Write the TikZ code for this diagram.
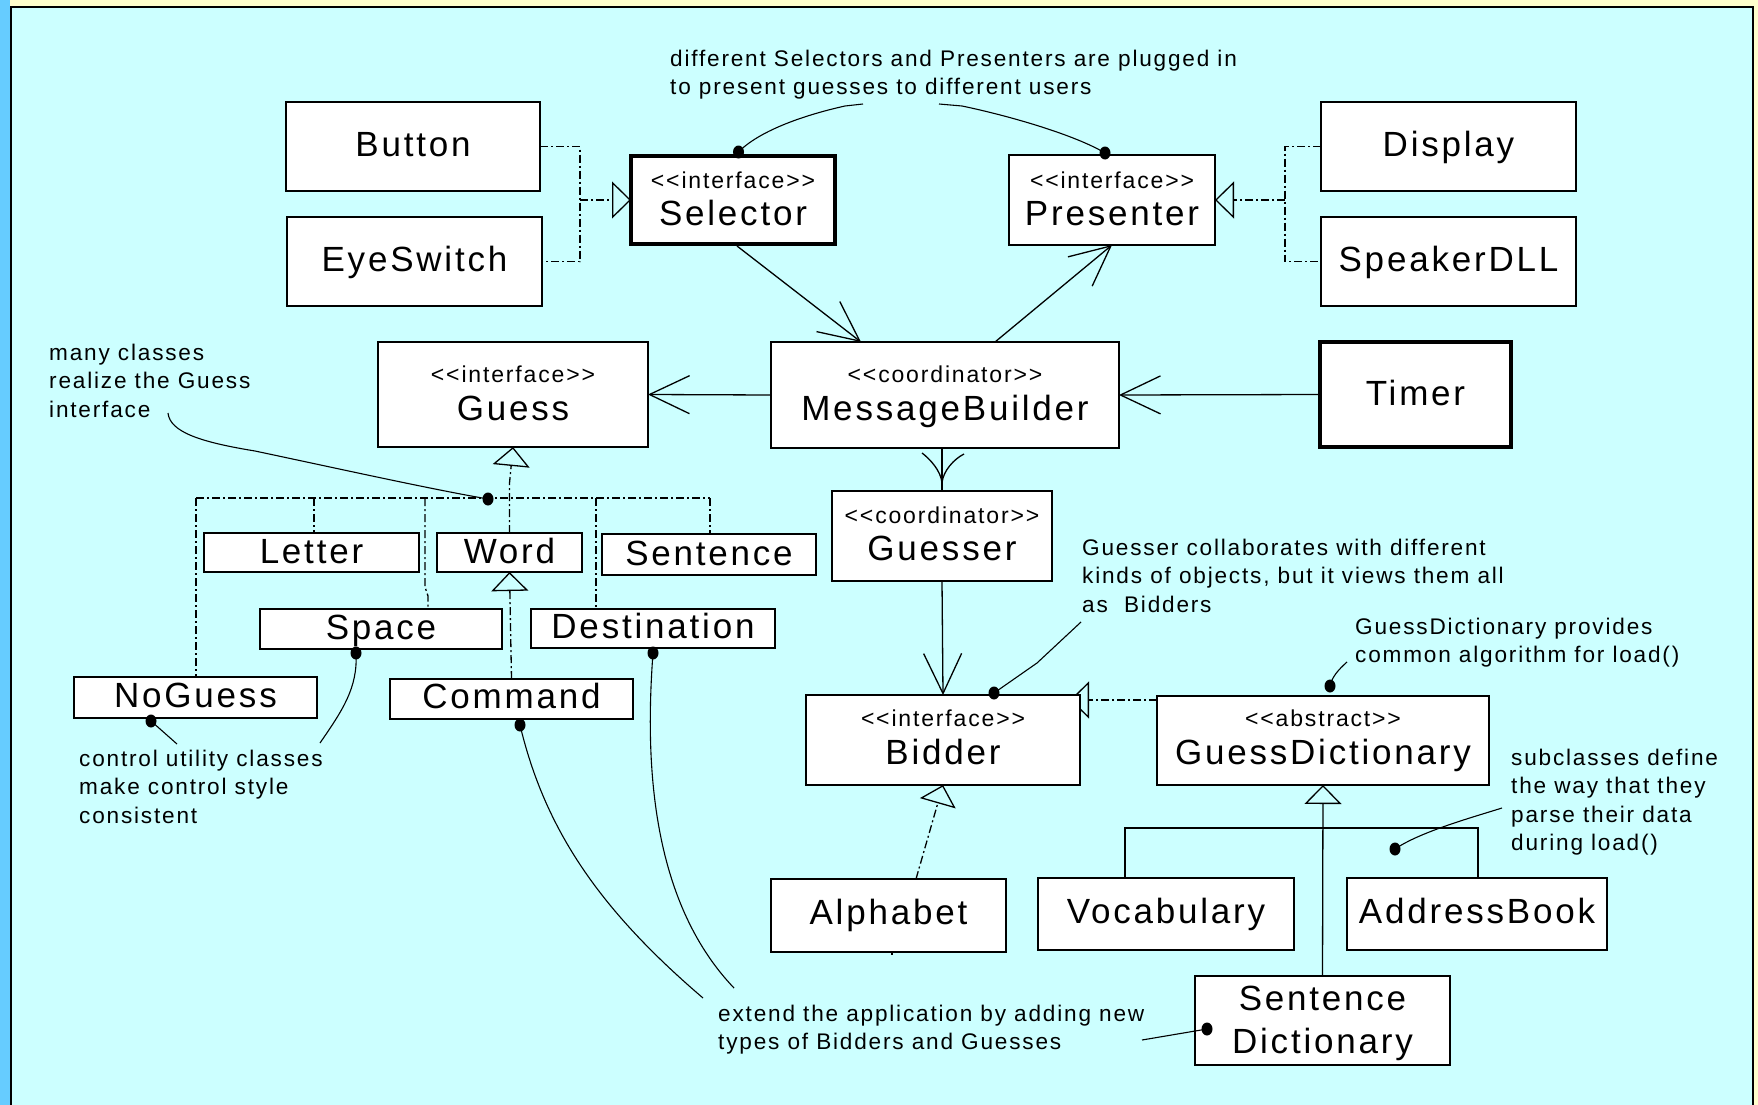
\documentclass[tikz,border=0pt]{standalone}
\usepackage{fontspec}
\newfontfamily\umlfam{Liberation Sans}[LetterSpace=8]
\usetikzlibrary{arrows.meta,fit,calc}
\pgfdeclarelayer{back}
\pgfdeclarelayer{wires}
\pgfsetlayers{back,wires,main}
\definecolor{panel}{RGB}{204,255,255}
\definecolor{stripe}{RGB}{102,204,255}
\definecolor{paper}{RGB}{255,255,204}
\definecolor{ink}{RGB}{0,0,0}
\newcommand\nmfont{\fontsize{35}{42}\umlfam}
\newcommand\stfont{\fontsize{23}{28}\umlfam}
\newcommand\notefont{\fontsize{22.6}{28.5}\umlfam}
\begin{document}
\begin{tikzpicture}[x=1pt,y=-1pt,
  cls/.style={draw=ink, fill=white, line width=1.5pt, inner sep=0pt, outer sep=0pt},
  heavy/.style={line width=4pt},
  nm/.style={font=\nmfont, inner sep=0pt, text height=24pt, text depth=0pt},
  st/.style={font=\stfont, inner sep=0pt, text height=16pt, text depth=0pt},
  note/.style={font=\notefont, inner sep=0pt, align=left, anchor=north west},
  wire/.style={draw=ink, line width=1.3pt},
  real/.style={wire, dash pattern=on 8pt off 3pt on 2pt off 3pt},
  nav/.style={wire, -{Straight Barb[length=40pt,width=38pt]}},
  gen/.style={-{Triangle[open,length=19pt,width=37pt]}},
  anno/.style={draw=ink, line width=1.1pt},
  dot/.style={fill=ink}
]
\useasboundingbox (0,0) rectangle (1758,1105);

% ---------- slide frame ----------
\begin{pgfonlayer}{back}
  \fill[paper] (0,0) rectangle (1758,1105);
  \fill[stripe] (0,0) rectangle (10,1105);
  \fill[panel] (11,7) rectangle (1753,1105);
  \draw[ink, line width=2pt] (11,1105) -- (11,7) -- (1753,7) -- (1753,1105);
\end{pgfonlayer}

% ---------- input devices and output devices ----------
\node[cls, fit={(286,102) (540,191)}] (button) {};
\node[nm] (button-t) at ($(button.center)+(0,-2)$) {Button};
\node[cls, fit={(287,217) (542,306)}] (eye) {};
\node[nm] (eye-t) at ($(eye.center)+(0,-2)$) {EyeSwitch};
\node[cls, heavy, fit={(631,156) (835,244)}] (sel) {};
\node[st] (sel-st) at ($(sel.center)+(0,-20)$) {<{}<interface>{}>};
\node[nm] (sel-nm) at ($(sel.center)+(0,13)$) {Selector};
\node[cls, fit={(1009,155) (1215,245)}] (pres) {};
\node[st] (pres-st) at ($(pres.center)+(0,-20)$) {<{}<interface>{}>};
\node[nm] (pres-nm) at ($(pres.center)+(0,13)$) {Presenter};
\node[cls, fit={(1321,102) (1576,191)}] (display) {};
\node[nm] (display-t) at ($(display.center)+(0,-2)$) {Display};
\node[cls, fit={(1321,217) (1576,306)}] (speaker) {};
\node[nm] (speaker-t) at ($(speaker.center)+(0,-2)$) {SpeakerDLL};

% ---------- coordinators ----------
\node[cls, fit={(378,342) (648,447)}] (guess) {};
\node[st] (guess-st) at ($(guess.center)+(0,-20)$) {<{}<interface>{}>};
\node[nm] (guess-nm) at ($(guess.center)+(0,13.5)$) {Guess};
\node[cls, fit={(771,342) (1119,448)}] (mb) {};
\node[st] (mb-st) at ($(mb.center)+(0,-21)$) {<{}<coordinator>{}>};
\node[nm] (mb-nm) at ($(mb.center)+(0,13)$) {MessageBuilder};
\node[cls, heavy, fit={(1320,342) (1511,447)}] (timer) {};
\node[nm] (timer-t) at ($(timer.center)+(0,-1)$) {Timer};
\node[cls, fit={(832,491) (1052,581)}] (guesser) {};
\node[st] (guesser-st) at ($(guesser.center)+(0,-21)$) {<{}<coordinator>{}>};
\node[nm] (guesser-nm) at ($(guesser.center)+(0,12)$) {Guesser};

% ---------- guesses ----------
\node[cls, fit={(204,533) (419,572)}] (letter) {};
\node[nm] (letter-t) at ($(letter.center)+(0,-1.5)$) {Letter};
\node[cls, fit={(437,533) (582,572)}] (word) {};
\node[nm] (word-t) at ($(word.center)+(0,-1.5)$) {Word};
\node[cls, fit={(602,534) (816,575)}] (sentence) {};
\node[nm] (sentence-t) at ($(sentence.center)+(0,-1.5)$) {Sentence};
\node[cls, fit={(260,609) (502,649)}] (space) {};
\node[nm] (space-t) at ($(space.center)+(0,-2)$) {Space};
\node[cls, fit={(531,609) (775,648)}] (dest) {};
\node[nm] (dest-t) at ($(dest.center)+(0,-2)$) {Destination};
\node[cls, fit={(74,677) (317,718)}] (noguess) {};
\node[nm] (noguess-t) at ($(noguess.center)+(0,-2)$) {NoGuess};
\node[cls, fit={(390,679) (633,719)}] (command) {};
\node[nm] (command-t) at ($(command.center)+(0,-2.5)$) {Command};

% ---------- bidders ----------
\node[cls, fit={(806,695) (1080,785)}] (bidder) {};
\node[st] (bidder-st) at ($(bidder.center)+(0,-22)$) {<{}<interface>{}>};
\node[nm] (bidder-nm) at ($(bidder.center)+(0,12.5)$) {Bidder};
\node[cls, fit={(1157,696) (1489,785)}] (gdict) {};
\node[st] (gdict-st) at ($(gdict.center)+(0,-22)$) {<{}<abstract>{}>};
\node[nm] (gdict-nm) at ($(gdict.center)+(0,12)$) {GuessDictionary};
\node[cls, fit={(771,879) (1006,952)}] (alphabet) {};
\node[nm] (alphabet-t) at ($(alphabet.center)+(0,-3)$) {Alphabet};
\node[cls, fit={(1038,878) (1294,950)}] (vocab) {};
\node[nm] (vocab-t) at ($(vocab.center)+(0,-3)$) {Vocabulary};
\node[cls, fit={(1347,878) (1607,950)}] (addr) {};
\node[nm] (addr-t) at ($(addr.center)+(0,-3)$) {AddressBook};
\node[cls, fit={(1195,976) (1450,1065)}] (sdict) {};
\node[nm] (sdict-a) at ($(sdict.center)+(0,-22)$) {Sentence};
\node[nm] (sdict-b) at ($(sdict.center)+(0,21)$) {Dictionary};

% ---------- notes ----------
\node[note] (n-plug) at (670,46) {\strut different Selectors and Presenters are plugged in\\to present guesses to different users};
\node[note] (n-many) at (49,340) {\strut many classes\\realize the Guess\\interface};
\node[note] (n-ctrl) at (79,746) {\strut control utility classes\\make control style\\consistent};
\node[note] (n-coll) at (1082,535) {\strut Guesser collaborates with different\\kinds of objects, but it views them all\\as\ \ Bidders};
\node[note] (n-load) at (1355,614) {\strut GuessDictionary\ provides\\common algorithm for load()};
\node[note] (n-sub) at (1511,745) {\strut subclasses define\\the way that they\\parse their data\\during load()};
\node[note] (n-ext) at (718,1001) {\strut extend the application by adding new\\types of Bidders and Guesses};

% ---------- junction points ----------
\coordinate (selJ) at (580,200);
\coordinate (presJ) at (1285,200);
\coordinate (gbusL) at (196,498);
\coordinate (gbusR) at (710,498);
\coordinate (gLet) at (314,498);
\coordinate (gSpc) at (425,498);
\coordinate (gDst) at (596,498);
\coordinate (gStem) at (509.5,483);
\coordinate (gtip) at (942,483);
\coordinate (gdbusL) at (1125,828);
\coordinate (gdbusR) at (1478,828);

% ---------- connectors ----------
\begin{pgfonlayer}{wires}
  % realizations of Selector and Presenter
  \draw[real] (button.east) -| (selJ |- eye.east) -- (eye.east);
  \draw[real, gen] (selJ) -- (sel.west);
  \draw[real] (display.west) -| (presJ |- speaker.west) -- (speaker.west);
  \draw[real, gen] (presJ) -- (pres.east);
  % navigations around the coordinators
  \draw[nav] ($(sel.south)+(4,2)$) -- ($(mb.north)+(-84,0)$);
  \draw[nav] ($(mb.north)+(50,0)$) -- (pres.south);
  \draw[nav] (mb.west) -- (guess.east);
  \draw[nav] (timer.west) -- (mb.east);
  \draw[wire] (mb.south -| gtip) -- (guesser.north -| gtip);
  \draw[wire] ($(gtip)+(-20,-30)$) .. controls ($(gtip)+(-12,-24)$) and ($(gtip)+(-1,-12)$) .. (gtip)
              .. controls ($(gtip)+(1,-12)$) and ($(gtip)+(12,-24)$) .. ($(gtip)+(22,-29)$);
  \draw[nav] (guesser.south) -- (bidder.north);
  % Guess hierarchy
  \draw[real] (gbusL) -- (gbusR);
  \draw[real, gen] (word.north) -- (gStem) -- (guess.south);
  \draw[real] (gbusL) -- (gbusL |- noguess.north);
  \draw[real] (gLet) -- (gLet |- letter.north);
  \draw[real] (gSpc) -- ++(0,89) -- ++(3,9) -- ($(gSpc |- space.north)+(3,0)$);
  \draw[real] (gDst) -- (gDst |- dest.north);
  \draw[real] (gbusR) -- (gbusR |- sentence.north);
  \draw[real, gen] (command.north) -- (word.south);
  % Bidder hierarchy
  \draw[real, gen] ($(alphabet.north)+(27.5,0)$) -- (bidder.south);
  \draw[wire] ($(alphabet.south)+(3.5,0)$) -- ++(0,3);
  \draw[real, gen] ($(gdict.west)+(0,-40.5)$) -- ($(bidder.north east)+(-10,5)$);
  \draw[wire, gen] (sdict.north) -- (gdict.south);
  \draw[wire] (gdbusL |- vocab.north) -- (gdbusL) -- (gdbusR) -- (gdbusR |- addr.north);
\end{pgfonlayer}

% ---------- note attachments ----------
\coordinate (a-plugL) at (863,104);
\coordinate (a-plugR) at (939,104);
\coordinate (a-many) at (168,413);
\coordinate (a-ctrl) at (320,743);
\coordinate (a-ctrl2) at (177,744);
\coordinate (a-ext1) at (703,998);
\coordinate (a-ext2) at (734,988);
\coordinate (a-ext3) at (1142,1040);
\coordinate (a-coll) at (1081,622);
\coordinate (a-load) at (1347,662);
\coordinate (a-sub) at (1502,808);

\coordinate (d-sel) at ($(sel.north)+(5.5,-4)$);
\coordinate (d-pres) at ($(pres.north)+(-7,-2)$);
\coordinate (d-bus) at (488,499);
\coordinate (d-space) at ($(space.south)+(-25,4)$);
\coordinate (d-dest) at ($(dest.south)+(0,5)$);
\coordinate (d-noguess) at ($(noguess.south)+(-44.5,3)$);
\coordinate (d-command) at ($(command.south)+(8.5,6)$);
\coordinate (d-bidder) at ($(bidder.north)+(51,-2)$);
\coordinate (d-gdict) at ($(gdict.north)+(7,-10)$);
\coordinate (d-sub) at ($(gdbusL)+(270,21)$);
\coordinate (d-sdict) at ($(sdict.west)+(12,8.5)$);

\draw[anno] (a-plugL) -- (845,106) .. controls (800,116) and (758,132) .. (d-sel);
\draw[anno] (a-plugR) -- (962,106) .. controls (1010,116) and (1075,135) .. (d-pres);
\draw[anno] (a-many) .. controls (170,432) and (200,442) .. (255,451)
            .. controls (340,469) and (430,489) .. (d-bus);
\draw[anno] (d-space) .. controls ($(d-space)+(2,35)$) and ($(a-ctrl)+(22,-32)$) .. (a-ctrl);
\draw[anno] (d-noguess) -- (a-ctrl2);
\draw[anno] (d-command) .. controls ($(d-command)+(25,105)$) and ($(a-ext1)+(-103,-88)$) .. (a-ext1);
\draw[anno] (d-dest) .. controls ($(d-dest)+(-8,107)$) and ($(a-ext2)+(-84,-88)$) .. (a-ext2);
\draw[anno] (a-ext3) -- (d-sdict);
\draw[anno] (a-coll) -- (1037,663) -- (d-bidder);
\draw[anno] (a-load) .. controls (1338,670) and (1332,677) .. (d-gdict);
\draw[anno] (a-sub) .. controls (1470,818) and (1420,832) .. (d-sub);

\foreach \d in {d-sel,d-pres,d-bus,d-space,d-dest,d-noguess,d-command,d-bidder,d-gdict,d-sub,d-sdict}
  \fill[dot] (\d) ellipse[x radius=5.5pt, y radius=6.5pt];
\end{tikzpicture}
\end{document}
